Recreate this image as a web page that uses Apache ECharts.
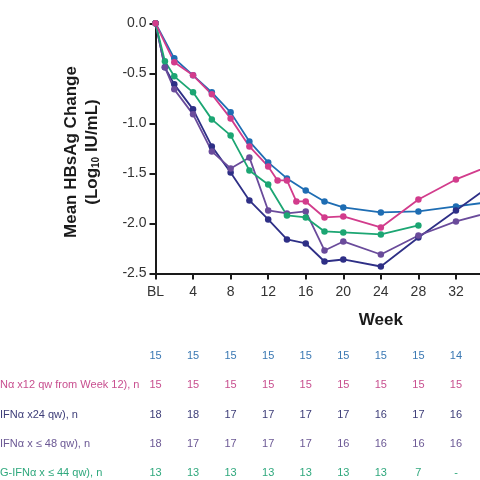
<!DOCTYPE html>
<html>
<head>
    <meta charset="utf-8" />
    <title>Mean HBsAg Change</title>
    <script type="text/javascript" src="https://cdn.jsdelivr.net/npm/echarts@6/dist/echarts.min.js"></script>
    <style>
        html, body { margin: 0; padding: 0; background: #fff; }
        #main { width: 480px; height: 480px; }
    </style>
</head>
<body>
<div id="main"></div>
<script type="text/javascript">
    // weeks and mean change per arm
    var blueWeeks   = [0, 2, 4, 6, 8, 10, 12, 14, 16, 18, 20, 24, 28, 32, 36];
    var blueValues  = [0, -0.35, -0.52, -0.69, -0.89, -1.18, -1.39, -1.55, -1.67, -1.78, -1.84, -1.89, -1.88, -1.83, -1.78];

    var pinkWeeks   = [0, 2, 4, 6, 8, 10, 12, 13, 14, 15, 16, 18, 20, 24, 28, 32, 36];
    var pinkValues  = [0, -0.39, -0.52, -0.71, -0.95, -1.23, -1.43, -1.57, -1.57, -1.78, -1.78, -1.94, -1.93, -2.04, -1.76, -1.56, -1.41];

    var navyWeeks   = [0, 1, 2, 4, 6, 8, 10, 12, 14, 16, 18, 20, 24, 28, 32, 36];
    var navyValues  = [0, -0.44, -0.61, -0.86, -1.23, -1.49, -1.77, -1.96, -2.16, -2.20, -2.38, -2.36, -2.43, -2.14, -1.87, -1.60];

    var purpleWeeks  = [0, 1, 2, 4, 6, 8, 10, 12, 14, 16, 18, 20, 24, 28, 32, 36];
    var purpleValues = [0, -0.44, -0.66, -0.91, -1.28, -1.45, -1.34, -1.87, -1.90, -1.88, -2.27, -2.18, -2.31, -2.12, -1.98, -1.88];

    var greenWeeks  = [0, 1, 2, 4, 6, 8, 10, 12, 14, 16, 18, 20, 24, 28];
    var greenValues = [0, -0.38, -0.53, -0.69, -0.96, -1.12, -1.47, -1.61, -1.92, -1.94, -2.08, -2.09, -2.11, -2.02];

    // n table under the chart
    var tableWeeks = [0, 4, 8, 12, 16, 20, 24, 28, 32];
    var rowLabels = ['', 'Nα x12 qw from Week 12), n', 'IFNα x24 qw), n', 'IFNα x ≤ 48 qw), n', 'G-IFNα x ≤ 44 qw), n'];
    var nBlue   = ['15', '15', '15', '15', '15', '15', '15', '15', '14'];
    var nPink   = ['15', '15', '15', '15', '15', '15', '15', '15', '15'];
    var nNavy   = ['18', '18', '17', '17', '17', '17', '16', '17', '16'];
    var nPurple = ['18', '17', '17', '17', '17', '16', '16', '16', '16'];
    var nGreen  = ['13', '13', '13', '13', '13', '13', '13', '7', '-'];

    var FONT = '"Liberation Sans", Arial, sans-serif';

    function pairs(w, v) {
        return w.map(function (x, i) { return [x, v[i]]; });
    }
    function line(name, color, w, v) {
        return {
            name: name,
            type: 'line',
            data: pairs(w, v),
            symbol: 'circle',
            symbolSize: 6.5,
            showSymbol: true,
            clip: false,
            lineStyle: { color: color, width: 1.8 },
            itemStyle: { color: color },
            emphasis: { disabled: true }
        };
    }

    var myChart = echarts.init(document.getElementById('main'));
    var option = {
        animation: false,
        backgroundColor: '#fff',
        // axis runs to week 48, well past the right edge of the 480px view
        grid: { left: 155.5, top: 23.3, width: 450.7, height: 250.2,
                containLabel: false, outerBoundsMode: 'none' },
        xAxis: {
            type: 'value',
            min: 0,
            max: 48,
            interval: 4,
            axisLine: { onZero: false, lineStyle: { color: '#1a1a1a', width: 2 } },
            axisTick: { show: true, length: 6, lineStyle: { color: '#1a1a1a', width: 2 } },
            axisLabel: {
                color: '#333', fontSize: 14, fontFamily: FONT, margin: 12,
                formatter: function (v) { return v === 0 ? 'BL' : String(v); }
            },
            splitLine: { show: false },
            name: 'Week',
            nameLocation: 'middle',
            nameGap: 38,
            nameTextStyle: { color: '#1a1a1a', fontSize: 17, fontWeight: 'bold', fontFamily: FONT }
        },
        yAxis: {
            type: 'value',
            min: -2.5,
            max: 0,
            interval: 0.5,
            axisLine: { show: true, lineStyle: { color: '#1a1a1a', width: 2 } },
            axisTick: { show: true, length: 6, lineStyle: { color: '#1a1a1a', width: 2 } },
            axisLabel: {
                color: '#333', fontSize: 14, fontFamily: FONT, margin: 9,
                formatter: function (v) { return v.toFixed(1); }
            },
            splitLine: { show: false }
        },
        series: [
            line('blue', '#1e6db3', blueWeeks, blueValues),
            line('navy', '#2e2f86', navyWeeks, navyValues),
            line('purple', '#6a4b9b', purpleWeeks, purpleValues),
            line('green', '#1ca673', greenWeeks, greenValues),
            line('pink', '#d23c8c', pinkWeeks, pinkValues)
        ]
    };
    myChart.setOption(option);

    // y axis title + n table, placed with the chart's own x scale
    var rows = [nBlue, nPink, nNavy, nPurple, nGreen];
    var rowColors = ['#3a78b3', '#c84f8f', '#3d3d78', '#6b5894', '#2fa87d'];
    var rowY = [355.5, 384.5, 415, 443.5, 472.5];
    var graphics = [{
        type: 'text',
        x: 82, y: 152,
        rotation: Math.PI / 2,
        style: {
            text: '{a|Mean HBsAg Change}\n{a|(Log}{s|10}{a| IU/mL)}',
            align: 'center',
            verticalAlign: 'middle',
            fill: '#1a1a1a',
            rich: {
                a: { fontSize: 17, fontWeight: 'bold', fontFamily: FONT, lineHeight: 21, fill: '#1a1a1a' },
                s: { fontSize: 10, fontWeight: 'bold', fontFamily: FONT, lineHeight: 21, padding: [8, 0, 0, 0], fill: '#1a1a1a' }
            }
        }
    }];
    rows.forEach(function (row, r) {
        // row labels start at the left edge (cut off there in the source)
        graphics.push({
            type: 'text', x: 0, y: rowY[r],
            style: { text: rowLabels[r], align: 'left', verticalAlign: 'middle',
                     fill: rowColors[r], font: '11px ' + FONT }
        });
        row.forEach(function (n, i) {
            var px = myChart.convertToPixel({ xAxisIndex: 0 }, tableWeeks[i]);
            graphics.push({
                type: 'text', x: px, y: rowY[r],
                style: { text: n, align: 'center', verticalAlign: 'middle',
                         fill: rowColors[r], font: '11px ' + FONT }
            });
        });
    });
    myChart.setOption({ graphic: graphics });
</script>
</body>
</html>
